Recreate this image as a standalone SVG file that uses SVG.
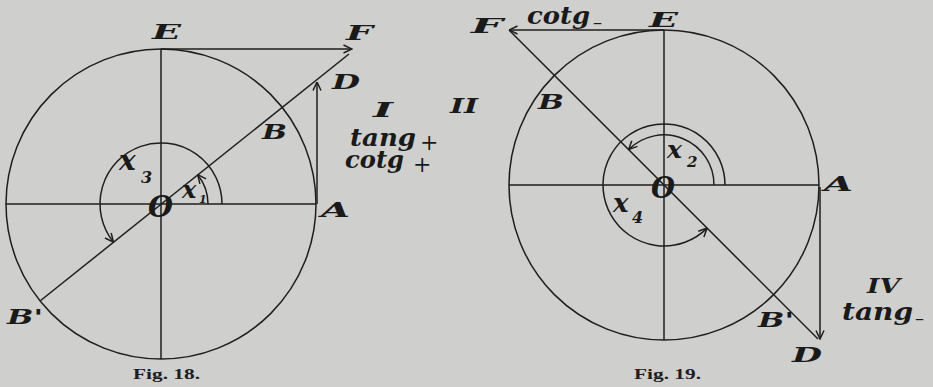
<svg xmlns="http://www.w3.org/2000/svg" width="933" height="387" viewBox="0 0 933 387">
<defs>
<style>
.ln{fill:none;stroke:#1e1e1e;stroke-width:1.5}
.lb{font-family:"DejaVu Serif","Liberation Serif",serif;font-weight:bold;font-style:italic;fill:#1a1a1a}
.cap{font-size:21px}
.lc{font-size:24px}
.pm{font-style:normal;font-weight:normal}
.o{font-family:"DejaVu Serif","Liberation Serif",serif;font-style:italic;font-weight:bold;font-size:30px;fill:#1a1a1a}
.fig{font-family:"Liberation Serif","DejaVu Serif",serif;font-weight:bold;font-size:15px;fill:#1e1e1e}
</style>
<marker id="ah" viewBox="0 0 10 10" refX="9.5" refY="5" markerWidth="10" markerHeight="10" markerUnits="userSpaceOnUse" orient="auto">
<path d="M1,1 L9.5,5 L1,9" fill="none" stroke="#1e1e1e" stroke-width="1.5"/>
</marker>
</defs>
<rect width="933" height="387" fill="#cfcfcd"/>

<g id="fig18">
<circle class="ln" cx="161" cy="204" r="155"/>
<line class="ln" x1="6" y1="204" x2="316" y2="204"/>
<line class="ln" x1="161" y1="49" x2="161" y2="359"/>
<g id="connectors18">
<line class="ln" x1="40" y1="301" x2="349" y2="54"/>
<line class="ln" x1="161" y1="49" x2="352" y2="49" marker-end="url(#ah)"/>
<line class="ln" x1="317" y1="204" x2="317" y2="82" marker-end="url(#ah)"/>
<path class="ln" d="M222,204 A61,61 0 1 0 113.4,242.1" marker-end="url(#ah)"/>
<path class="ln" d="M208,204 A47,47 0 0 0 197.7,174.7" marker-end="url(#ah)"/>
</g>
<text class="o" x="148" y="217" textLength="25" lengthAdjust="spacingAndGlyphs">O</text>
<text class="lb cap" x="152" y="39" textLength="29" lengthAdjust="spacingAndGlyphs">E</text>
<text class="lb cap" x="346" y="40" textLength="27" lengthAdjust="spacingAndGlyphs">F</text>
<text class="lb cap" x="332" y="89" textLength="28" lengthAdjust="spacingAndGlyphs">D</text>
<text class="lb cap" x="262" y="139" textLength="25" lengthAdjust="spacingAndGlyphs">B</text>
<text class="lb cap" x="321" y="217" textLength="29" lengthAdjust="spacingAndGlyphs">A</text>
<text class="lb cap" x="7" y="324" textLength="36" lengthAdjust="spacingAndGlyphs">B'</text>
<text class="lb cap" x="373" y="117" textLength="20" lengthAdjust="spacingAndGlyphs">I</text>
<text class="lb" x="119" y="170" font-size="28">x<tspan x="141" y="183" font-size="16">3</tspan></text>
<text class="lb" x="182" y="198" font-size="24">x<tspan x="199" y="203" font-size="11">1</tspan></text>
<text class="lb lc" x="350" y="146" textLength="66" lengthAdjust="spacingAndGlyphs">tang</text>
<text class="lb pm" x="420" y="150" font-size="22">+</text>
<text class="lb lc" x="345" y="168" textLength="59" lengthAdjust="spacingAndGlyphs">cotg</text>
<text class="lb pm" x="413" y="172" font-size="22">+</text>
<text class="fig" x="133" y="379" textLength="67" lengthAdjust="spacingAndGlyphs">Fig. 18.</text>
</g>

<text class="lb cap" x="450" y="113" textLength="28" lengthAdjust="spacingAndGlyphs">II</text>

<g id="fig19">
<circle class="ln" cx="664" cy="185" r="155"/>
<line class="ln" x1="509" y1="185" x2="819" y2="185"/>
<line class="ln" x1="664" y1="30" x2="664" y2="340"/>
<g id="connectors19">
<line class="ln" x1="664" y1="30" x2="509" y2="30" marker-end="url(#ah)"/>
<line class="ln" x1="509" y1="30" x2="818" y2="339"/>
<line class="ln" x1="820" y1="187" x2="820" y2="339" marker-end="url(#ah)"/>
<path class="ln" d="M714,185 A50,50 0 0 0 628.6,149.6" marker-end="url(#ah)"/>
<path class="ln" d="M725,185 A61,61 0 1 0 707.1,228.1" marker-end="url(#ah)"/>
</g>
<text class="o" x="651" y="198" textLength="24" lengthAdjust="spacingAndGlyphs">O</text>
<text class="lb cap" x="471" y="33" textLength="32" lengthAdjust="spacingAndGlyphs">F</text>
<text class="lb lc" x="527" y="24" textLength="63" lengthAdjust="spacingAndGlyphs">cotg</text>
<text class="lb pm" x="593" y="29" font-size="18">–</text>
<text class="lb cap" x="649" y="27" textLength="29" lengthAdjust="spacingAndGlyphs">E</text>
<text class="lb cap" x="538" y="109" textLength="26" lengthAdjust="spacingAndGlyphs">B</text>
<text class="lb cap" x="824" y="191" textLength="29" lengthAdjust="spacingAndGlyphs">A</text>
<text class="lb" x="667" y="158" font-size="25">x<tspan x="687" y="167" font-size="15">2</tspan></text>
<text class="lb" x="613" y="212" font-size="26">x<tspan x="632" y="223" font-size="16">4</tspan></text>
<text class="lb cap" x="758" y="327" textLength="36" lengthAdjust="spacingAndGlyphs">B'</text>
<text class="lb cap" x="792" y="362" textLength="30" lengthAdjust="spacingAndGlyphs">D</text>
<text class="lb cap" x="867" y="293" textLength="33" lengthAdjust="spacingAndGlyphs">IV</text>
<text class="lb lc" x="842" y="320" textLength="71" lengthAdjust="spacingAndGlyphs">tang</text>
<text class="lb pm" x="915" y="325" font-size="18">–</text>
<text class="fig" x="634" y="379" textLength="67" lengthAdjust="spacingAndGlyphs">Fig. 19.</text>
</g>
</svg>
